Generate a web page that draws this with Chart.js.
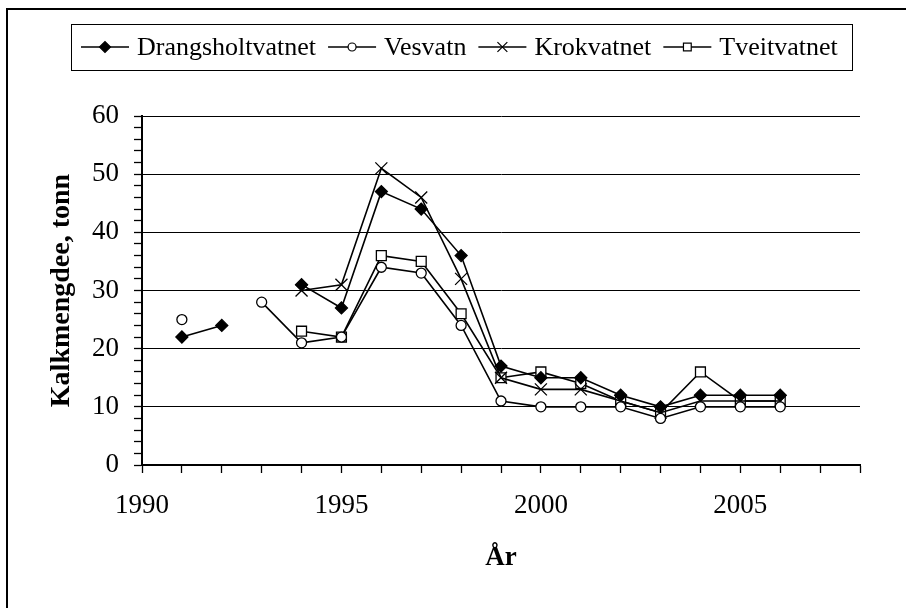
<!DOCTYPE html>
<html>
<head>
<meta charset="utf-8">
<title>Kalkmengde</title>
<script src="https://cdn.jsdelivr.net/npm/chart.js@4/dist/chart.umd.min.js"></script>
<style>
	html, body {
		margin: 0;
		padding: 0;
		background: #ffffff;
	}
	canvas {
		display: block;
	}
</style>
</head>
<body>
<canvas id="chart" width="906" height="608"></canvas>
<script>
// Data
const years = [1991, 1992, 1993, 1994, 1995, 1996, 1997, 1998, 1999, 2000, 2001, 2002, 2003, 2004, 2005, 2006]
const drangsholtvatnet = [22, 24, null, 31, 27, 47, 44, 36, 17, 15, 15, 12, 10, 12, 12, 12]
const vesvatn = [25, null, 28, 21, 22, 34, 33, 24, 11, 10, 10, 10, 8, 10, 10, 10]
const krokvatnet = [null, null, null, 30, 31, 51, 46, 32, 15, 13, 13, 11, 9, 11, 11, 11]
const tveitvatnet = [null, null, null, 23, 22, 36, 35, 26, 15, 16, 14, 11, 9, 16, 11, 11]

const series_names = ["Drangsholtvatnet", "Vesvatn", "Krokvatnet", "Tveitvatnet"]
const x_label_years = [1990, 1995, 2000, 2005]
const y_label_values = [0, 10, 20, 30, 40, 50, 60]

const FONT = "'Liberation Serif', 'Times New Roman', serif"

/**
 * Turn a value list into {x, y} points on the year axis
 */
function to_points(values) {
	return years.map((year, i) => ({ x: year, y: values[i] }))
}

const marker_styles = [
	{ pointStyle: "rectRot", radius: 6, fill: "#000000", legend_radius: 5.5 },
	{ pointStyle: "circle", radius: 5, fill: "#ffffff", legend_radius: 4 },
	{ pointStyle: "crossRot", radius: 8.5, fill: "#000000", legend_radius: 7 },
	{ pointStyle: "rect", radius: 7, fill: "#ffffff", legend_radius: 5.5 }
]

const series_values = [drangsholtvatnet, vesvatn, krokvatnet, tveitvatnet]

const datasets = series_values.map((values, i) => ({
	label: series_names[i],
	data: to_points(values),
	borderColor: "#000000",
	borderWidth: 1.6,
	pointStyle: marker_styles[i].pointStyle,
	pointRadius: marker_styles[i].radius,
	pointHoverRadius: marker_styles[i].radius,
	pointBackgroundColor: marker_styles[i].fill,
	pointBorderColor: "#000000",
	pointBorderWidth: 1.3,
	spanGaps: false,
	tension: 0
}))

/**
 * Outer frame of the chart area
 */
const frame_plugin = {
	id: "frame",
	afterDraw(chart) {
		const ctx = chart.ctx
		ctx.save()
		ctx.strokeStyle = "#000000"
		ctx.lineWidth = 2
		ctx.strokeRect(7, 9, 1000, 1000)
		ctx.restore()
	}
}

/**
 * Boxed legend with line + marker samples, drawn in one row
 */
const legend_plugin = {
	id: "boxed_legend",
	afterDraw(chart) {
		const ctx = chart.ctx
		const box = { left: 71, top: 24, right: 852, bottom: 70 }
		const mid_y = (box.top + box.bottom) / 2
		const sample_width = 48
		const text_gap = 8
		const item_gap = 12

		ctx.save()
		ctx.strokeStyle = "#000000"
		ctx.lineWidth = 1
		ctx.strokeRect(box.left + 0.5, box.top + 0.5, box.right - box.left, box.bottom - box.top)

		ctx.font = "26px " + FONT
		ctx.textBaseline = "middle"
		ctx.textAlign = "left"

		let x = box.left + 10
		chart.data.datasets.forEach((ds, i) => {
			const style = marker_styles[i]

			ctx.strokeStyle = "#000000"
			ctx.lineWidth = 1.6
			ctx.beginPath()
			ctx.moveTo(x, mid_y)
			ctx.lineTo(x + sample_width, mid_y)
			ctx.stroke()

			ctx.fillStyle = style.fill
			ctx.lineWidth = 1.2
			Chart.helpers.drawPoint(ctx, {
				pointStyle: style.pointStyle,
				radius: style.legend_radius,
				borderWidth: 1.2,
				rotation: 0
			}, x + sample_width / 2, mid_y)

			ctx.fillStyle = "#000000"
			const text_x = x + sample_width + text_gap
			ctx.fillText(ds.label, text_x, mid_y + 1)
			x = text_x + ctx.measureText(ds.label).width + item_gap
		})
		ctx.restore()
	}
}

new Chart(document.getElementById("chart"), {
	type: "line",
	data: { datasets },
	options: {
		responsive: false,
		animation: false,
		devicePixelRatio: 1,
		layout: {
			padding: { left: 20, right: 46, top: 116, bottom: 18 }
		},
		plugins: {
			legend: { display: false },
			tooltip: { enabled: false }
		},
		scales: {
			x: {
				type: "linear",
				min: 1990,
				max: 2008,
				afterFit(scale) {
					scale.height = 125
				},
				border: { color: "#000000", width: 2 },
				grid: {
					drawOnChartArea: false,
					color: "#000000",
					tickColor: "#000000",
					tickLength: 8,
					tickWidth: 1.3
				},
				ticks: {
					stepSize: 1,
					autoSkip: false,
					maxRotation: 0,
					padding: 17,
					color: "#000000",
					font: { family: FONT, size: 27 },
					callback: value => x_label_years.includes(value) ? String(value) : ""
				},
				title: {
					display: true,
					text: "År",
					color: "#000000",
					font: { family: FONT, size: 27, weight: "bold" },
					padding: { top: 0, bottom: 16 }
				}
			},
			y: {
				min: 0,
				max: 60,
				afterFit(scale) {
					scale.width = 122
				},
				border: { color: "#000000", width: 2 },
				grid: {
					color: ctx => ctx.tick && y_label_values.includes(ctx.tick.value) ? "#000000" : "rgba(0,0,0,0)",
					lineWidth: 1,
					tickColor: "#000000",
					tickLength: 8,
					tickWidth: 1.3
				},
				ticks: {
					stepSize: 2,
					autoSkip: false,
					padding: 15,
					color: "#000000",
					font: { family: FONT, size: 27 },
					callback: value => y_label_values.includes(value) ? String(value) : ""
				},
				title: {
					display: true,
					text: "Kalkmengdee, tonn",
					color: "#000000",
					font: { family: FONT, size: 28, weight: "bold" },
					padding: { top: 25, bottom: 0 }
				}
			}
		}
	},
	plugins: [frame_plugin, legend_plugin]
})
</script>
</body>
</html>
